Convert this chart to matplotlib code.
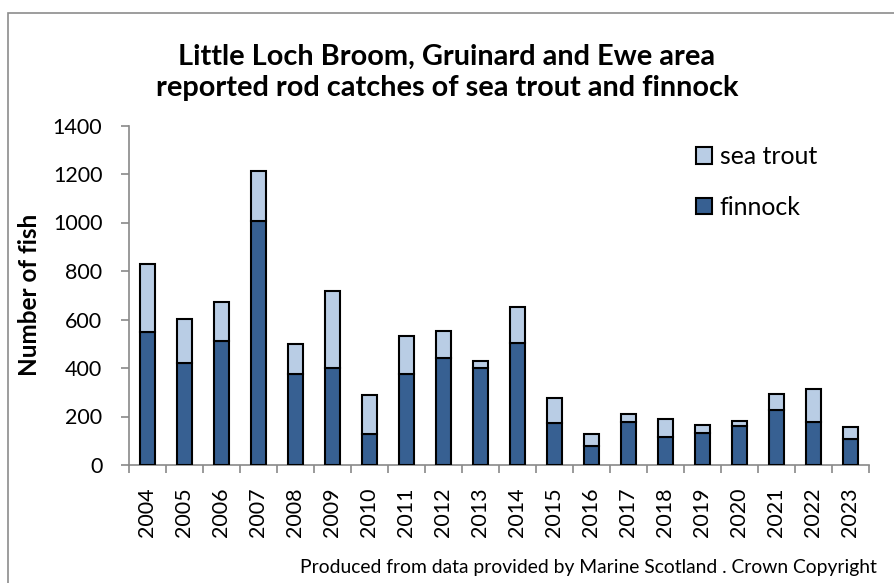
import matplotlib
matplotlib.use("Agg")
import matplotlib.pyplot as plt
from matplotlib.patches import Rectangle, Patch
import numpy as np

years = [str(y) for y in range(2004, 2024)]
finnock = [548, 421, 513, 1007, 376, 398, 126, 374, 442, 400, 505, 174, 80, 177, 117, 132, 162, 228, 178, 108]
sea_trout = [281, 181, 159, 204, 123, 318, 162, 159, 109, 28, 147, 101, 49, 33, 72, 31, 19, 66, 134, 50]

title = "Little Loch Broom, Gruinard and Ewe area\nreported rod catches of sea trout and finnock"
ylabel = "Number of fish"
footer = "Produced from data provided by Marine Scotland . Crown Copyright"

dark = "#376092"
light = "#B9CDE5"
spine_col = "#898989"

plt.rcParams['font.family'] = ['Lato', 'DejaVu Sans']

W, H = 895, 583
fig = plt.figure(figsize=(W / 100, H / 100), dpi=100)

# outer border
fig.patches.append(Rectangle((8 / W, -0.1), 1.2, 1.1 - 13 / H, transform=fig.transFigure,
                             fill=False, edgecolor="#8c8c8c", linewidth=1.2))

ax = fig.add_axes([128.7 / W, 1 - 465 / H, (869 - 128.7) / W, (465 - 125.5) / H])
x = np.arange(len(years))
ax.bar(x, finnock, width=0.4, color=dark, edgecolor="black", linewidth=1.5, label="finnock", zorder=3)
ax.bar(x, sea_trout, width=0.4, bottom=finnock, color=light, edgecolor="black", linewidth=1.5,
       label="sea trout", zorder=3)

ax.set_xlim(-0.5, len(years) - 0.5)
ax.set_ylim(0, 1400)
ax.set_yticks(range(0, 1401, 200))
ax.set_xticks(x)
ax.set_xticklabels(years, rotation=90, fontsize=15.5)
ax.set_xticks(np.arange(-0.5, len(years), 1.0), minor=True)
ax.tick_params(axis='x', which='major', length=0, pad=16)
ax.tick_params(axis='x', which='minor', length=6, color=spine_col, width=1.2, direction='out')
ax.tick_params(axis='y', length=6, color=spine_col, width=1.2, direction='out', labelsize=15.5, pad=13)

for s in ['top', 'right']:
    ax.spines[s].set_visible(False)
for s in ['left', 'bottom']:
    ax.spines[s].set_color(spine_col)
    ax.spines[s].set_linewidth(1.2)

fig.text(30 / W, 1 - 295 / H, ylabel, rotation=90, ha='center', va='center',
         fontsize=17.5, fontweight='bold')

fig.text(447 / W, 1 - 72 / H, title, ha='center', va='center', fontsize=20.8,
         fontweight='bold', linespacing=1.25)

fig.text(877 / W, 1 - 567 / H, footer, ha='right', va='center', fontsize=13.9)

handles = [Patch(facecolor=light, edgecolor='black', linewidth=1.5, label='sea trout'),
           Patch(facecolor=dark, edgecolor='black', linewidth=1.5, label='finnock')]
leg = fig.legend(handles=handles, loc='center left', bbox_to_anchor=(696 / W, 1 - 182 / H),
                 frameon=False, fontsize=17.9, handlelength=0.65, handleheight=0.65,
                 handletextpad=0.3, labelspacing=1.1, borderaxespad=0, borderpad=0)

fig.savefig("out.png", dpi=100)
